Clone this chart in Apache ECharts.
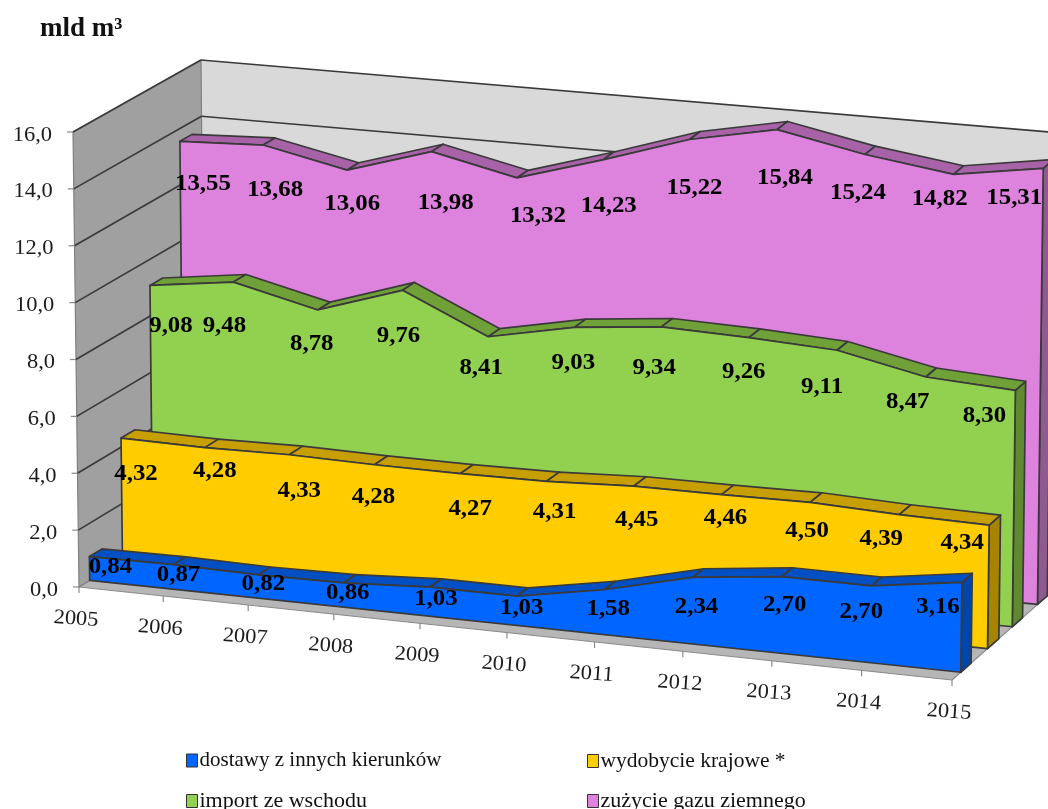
<!DOCTYPE html>
<html>
<head>
<meta charset="utf-8">
<style>html,body{margin:0;padding:0;background:#fff}#chart{width:1048px;height:809px}</style>
<script src="https://cdn.jsdelivr.net/npm/echarts@6/dist/echarts.min.js"></script>
</head>
<body>
<div id="chart"></div>
<script>
// Natural gas balance in Poland, drawn as a 3D area chart on a projected box.
const years = ['2005','2006','2007','2008','2009','2010','2011','2012','2013','2014','2015'];
const yTicks = [0,2,4,6,8,10,12,14,16];

const dostawy = [0.84,0.87,0.82,0.86,1.03,1.03,1.58,2.34,2.70,2.70,3.16];
const wydobycie = [4.32,4.28,4.33,4.28,4.27,4.31,4.45,4.46,4.50,4.39,4.34];
const importWschod = [9.08,9.48,8.78,9.76,8.41,9.03,9.34,9.26,9.11,8.47,8.30];
const zuzycie = [13.55,13.68,13.06,13.98,13.32,14.23,15.22,15.84,15.24,14.82,15.31];

const NAME_DOSTAWY = 'dostawy z innych kierunków';
const NAME_WYDOBYCIE = 'wydobycie krajowe *';
const NAME_IMPORT = 'import ze wschodu';
const NAME_ZUZYCIE = 'zużycie gazu ziemnego';

// Projection frame: where the corners of the plot box fall on the page.
const BOX = {
  frontBottomLeft: [79,587], frontBottomRight: [952,680],
  backBottomLeft: [205,510], backBottomRight: [1055,589],
  frontTopLeft: [73,132], frontTopRight: [958,225],
  backTopLeft: [201,60], backTopRight: [1061,133]
};
const PERSPECTIVE = 1.04;
const LINE = '#3a3a3a';

// Depth slots of the four ribbons inside the box and their face colours.
const layers = [
  {name:NAME_ZUZYCIE, values:zuzycie, front:0.83, back:0.925, face:'#dd82dd', top:'#a863a8', side:'#8f5a90'},
  {name:NAME_IMPORT, values:importWschod, front:0.585, back:0.685, face:'#92d050', top:'#70a038', side:'#5f8a30'},
  {name:NAME_WYDOBYCIE, values:wydobycie, front:0.345, back:0.455, face:'#ffcc00', top:'#c89f00', side:'#a68400'},
  {name:NAME_DOSTAWY, values:dostawy, front:0.085, back:0.185, face:'#0066ff', top:'#0050c4', side:'#0046a8'}
];

// Hand-placed value label offsets from each point, in pixels.
const labelNudges = {
  [NAME_ZUZYCIE]: [[23,43],[12,45],[5,34],[14,51],[21,38],[6,46],[5,49],[8,48],[-7,39],[-14,25],[-29,30]],
  [NAME_IMPORT]: [[21,41],[-9,44],[-6,34],[-4,46],[-7,31],[-1,36],[-7,41],[-5,34],[-15,37],[-18,25],[-31,26]],
  [NAME_WYDOBYCIE]: [[15,36],[10,23],[10,36],[-1,32],[10,35],[8,31],[3,34],[4,23],[-3,29],[-18,24],[-27,18]],
  [NAME_DOSTAWY]: [[21,10],[5,10],[5,9],[4,10],[6,12],[5,12],[4,19],[4,30],[3,29],[-10,26],[-24,25]]
};

const SERIF = '"Liberation Serif","Times New Roman",serif';

function mix(a,b,k){ return [a[0]+(b[0]-a[0])*k, a[1]+(b[1]-a[1])*k]; }

// Maps along-axis, height and depth fractions onto the page.
function project(t,s,d){
  const f = t/(PERSPECTIVE-(PERSPECTIVE-1)*t);
  const bottom = mix(mix(BOX.frontBottomLeft,BOX.frontBottomRight,f), mix(BOX.backBottomLeft,BOX.backBottomRight,f), d);
  const top = mix(mix(BOX.frontTopLeft,BOX.frontTopRight,f), mix(BOX.backTopLeft,BOX.backTopRight,f), d);
  return mix(bottom,top,s);
}

// Reads a data point through the grid's axes, then places it at a given depth.
function place(api,params,i,v,d){
  const c = api.coord([i,v]);
  const g = params.coordSys;
  return project((c[0]-g.x)/g.width, (g.y+g.height-c[1])/g.height, d);
}

function poly(points,fill,stroke,lineWidth){
  return {type:'polygon', shape:{points}, silent:true,
    style:{fill, stroke:stroke||'none', lineWidth:lineWidth===undefined?1.7:lineWidth, lineJoin:'round'}};
}
function seg(a,b,stroke,lineWidth){
  return {type:'line', shape:{x1:a[0],y1:a[1],x2:b[0],y2:b[1]}, silent:true, style:{stroke, lineWidth, fill:'none'}};
}
function txt(x,y,text,opts){
  return {type:'text', x, y, rotation:opts.rotation||0, scaleX:opts.widen||1.07, silent:true,
    style:{text, fill:opts.fill||'#000', font:(opts.bold?'bold ':'')+opts.size+'px '+SERIF,
      textAlign:opts.align||'center', textVerticalAlign:'middle'}};
}

function renderFrame(params,api){
  const last = years.length-1, top = yTicks[yTicks.length-1];
  const P = (i,v,d)=>place(api,params,i,v,d);
  const kids = [
    poly([P(0,0,0),P(last,0,0),P(last,0,1),P(0,0,1)],'#b6b6b6','#8a8a8a',1.2),
    poly([P(0,0,1),P(last,0,1),P(last,top,1),P(0,top,1)],'#d9d9d9','none',0),
    poly([P(0,0,0),P(0,top,0),P(0,top,1),P(0,0,1)],'#a0a0a0','#808080',1.2)
  ];
  yTicks.forEach(v=>{
    const a=P(0,v,0), b=P(0,v,1), c=P(last,v,1);
    if(v>0){
      kids.push(seg(a,b,LINE,1.7));
      kids.push(seg(b,c,LINE,1.7));
    }
    kids.push(seg([a[0]-6,a[1]],a,'#8a8a8a',1.2));
    kids.push(txt(a[0]-21,a[1]+3,v.toFixed(1).replace('.',','),{size:21,align:'right',fill:'#1c1c1c'}));
  });
  years.forEach((y,i)=>{
    const a=P(i,0,0);
    kids.push(seg(a,[a[0],a[1]+6],'#8a8a8a',1.2));
    kids.push(txt(a[0]-3,a[1]+32,y,{size:21,fill:'#1c1c1c',rotation:-4*Math.PI/180}));
  });
  return {type:'group',children:kids};
}

function renderLayer(layer){
  return function(params,api){
    if(params.dataIndex!==0) return;
    const P = (i,v,d)=>place(api,params,i,v,d);
    const n = layer.values.length, last = n-1, kids = [];
    // right end cap
    kids.push(poly([P(last,layer.values[last],layer.front),P(last,layer.values[last],layer.back),
      P(last,0,layer.back),P(last,0,layer.front)],layer.side,LINE));
    // upper surface, one facet per interval
    for(let i=0;i<last;i++){
      kids.push(poly([P(i,layer.values[i],layer.front),P(i+1,layer.values[i+1],layer.front),
        P(i+1,layer.values[i+1],layer.back),P(i,layer.values[i],layer.back)],layer.top,LINE));
    }
    // front face
    const face = [P(0,0,layer.front)];
    layer.values.forEach((v,i)=>face.push(P(i,v,layer.front)));
    face.push(P(last,0,layer.front));
    kids.push(poly(face,layer.face,LINE));
    return {type:'group',children:kids};
  };
}

function renderLabels(params,api){
  if(params.dataIndex!==0) return;
  const kids = [];
  layers.forEach(layer=>{
    layer.values.forEach((v,i)=>{
      const p = place(api,params,i,v,layer.front), n = labelNudges[layer.name][i];
      kids.push(txt(p[0]+n[0],p[1]+n[1],v.toFixed(2).replace('.',','),{size:23,bold:true,widen:1.08}));
    });
  });
  return {type:'group',children:kids};
}

const chart = echarts.init(document.getElementById('chart'),null,{renderer:'canvas'});
function legendEntry(name,left,top,fontSize){
  return {left, top, data:[name], itemWidth:11, itemHeight:13, selectedMode:false, padding:0,
    icon:'rect', itemStyle:{borderColor:'#333',borderWidth:1},
    textStyle:{fontFamily:SERIF,fontSize,color:'#111',padding:[0,0,0,-3]}};
}

chart.setOption({
  animation:false,
  backgroundColor:'#fff',
  title:{text:'mld m³',left:40,top:16,padding:0,textStyle:{fontFamily:SERIF,fontWeight:'bold',fontSize:27,color:'#111'}},
  legend:[
    legendEntry(NAME_DOSTAWY,186,750,21),
    legendEntry(NAME_IMPORT,186,790,22),
    legendEntry(NAME_WYDOBYCIE,587,750,21.5),
    legendEntry(NAME_ZUZYCIE,587,790,22)
  ],
  grid:{left:79,width:873,top:132,height:455},
  xAxis:{type:'category',data:years,boundaryGap:false,show:false},
  yAxis:{type:'value',min:0,max:16,interval:2,show:false},
  series:[
    {type:'custom',name:'frame',clip:false,silent:true,renderItem:renderFrame,data:[[0,0]]}
  ].concat(layers.map(layer=>({
    type:'custom',name:layer.name,clip:false,silent:true,itemStyle:{color:layer.face},
    renderItem:renderLayer(layer),data:layer.values.map((v,i)=>[i,v])
  }))).concat([
    {type:'custom',name:'labels',clip:false,silent:true,renderItem:renderLabels,data:[[0,0]]}
  ])
});
</script>
</body>
</html>
